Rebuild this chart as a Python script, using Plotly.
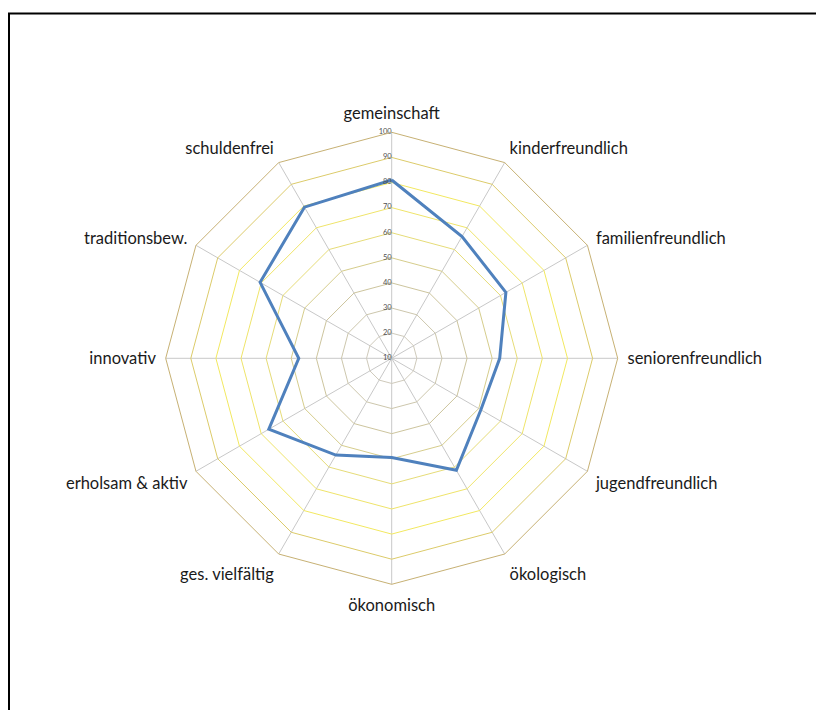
import plotly.graph_objects as go

categories = ["gemeinschaft", "kinderfreundlich", "familienfreundlich", "seniorenfreundlich",
              "jugendfreundlich", "ökologisch", "ökonomisch", "ges. vielfältig",
              "erholsam & aktiv", "innovativ", "traditionsbew.", "schuldenfrei"]
values = [81, 66, 62.5, 53, 51, 61.5, 49.5, 54.5, 66.5, 47, 70.5, 79.5]
ring_levels = [20, 30, 40, 50, 60, 70, 80, 90]
ring_colors = ["#cfcabb", "#cdc7ad", "#cdc59e", "#d6cd8c", "#e6dc78", "#efe46a", "#f2e860", "#dccb6a"]
radial_ticks = [10, 20, 30, 40, 50, 60, 70, 80, 90, 100]
radial_tick_text = [str(v) for v in radial_ticks]

W, H = 816, 710
cx, cy, R = 391.7, 358.3, 226.0

fig = go.Figure()
theta_closed = categories + [categories[0]]
for lvl, col in zip(ring_levels, ring_colors):
    fig.add_trace(go.Scatterpolar(r=[lvl] * len(theta_closed), theta=theta_closed, mode="lines",
                                  line=dict(color=col, width=1), hoverinfo="skip", showlegend=False))
fig.add_trace(go.Scatterpolar(r=values + [values[0]], theta=theta_closed, mode="lines",
                              line=dict(color="#4f81bd", width=3), showlegend=False))
fig.add_trace(go.Scatterpolar(r=radial_ticks, theta=[categories[0]] * len(radial_ticks), mode="text",
                              text=radial_tick_text, textposition="middle left", cliponaxis=False,
                              textfont=dict(size=7.5, color="#505050", family="Lato, sans-serif"),
                              hoverinfo="skip", showlegend=False))

fig.update_layout(
    width=W, height=H,
    margin=dict(l=0, r=0, t=0, b=0),
    paper_bgcolor="white",
    font=dict(family="Lato, 'Open Sans', sans-serif", color="#222222"),
    polar=dict(
        domain=dict(x=[(cx - R) / W, (cx + R) / W], y=[1 - (cy + R) / H, 1 - (cy - R) / H]),
        bgcolor="white",
        gridshape="linear",
        angularaxis=dict(direction="clockwise", rotation=90, showline=True, linecolor="#c7b174",
                         linewidth=1, gridcolor="#c8c8c8", gridwidth=1,
                         ticks="outside", ticklen=6, tickcolor="rgba(0,0,0,0)",
                         tickfont=dict(size=16.5, color="#1a1a1a")),
        radialaxis=dict(range=[9.98, 100], tickvals=radial_ticks, showgrid=False, showline=False,
                        angle=90, side="counterclockwise", ticks="outside", ticklen=3,
                        tickcolor="#aaaaaa", showticklabels=False),
    ),
    shapes=[dict(type="rect", xref="paper", yref="paper", x0=9 / W, x1=1.02, y0=-0.02, y1=1 - 13.5 / H,
                 line=dict(color="black", width=2))],
)

fig.write_html("out.html", config={"displayModeBar": False})
